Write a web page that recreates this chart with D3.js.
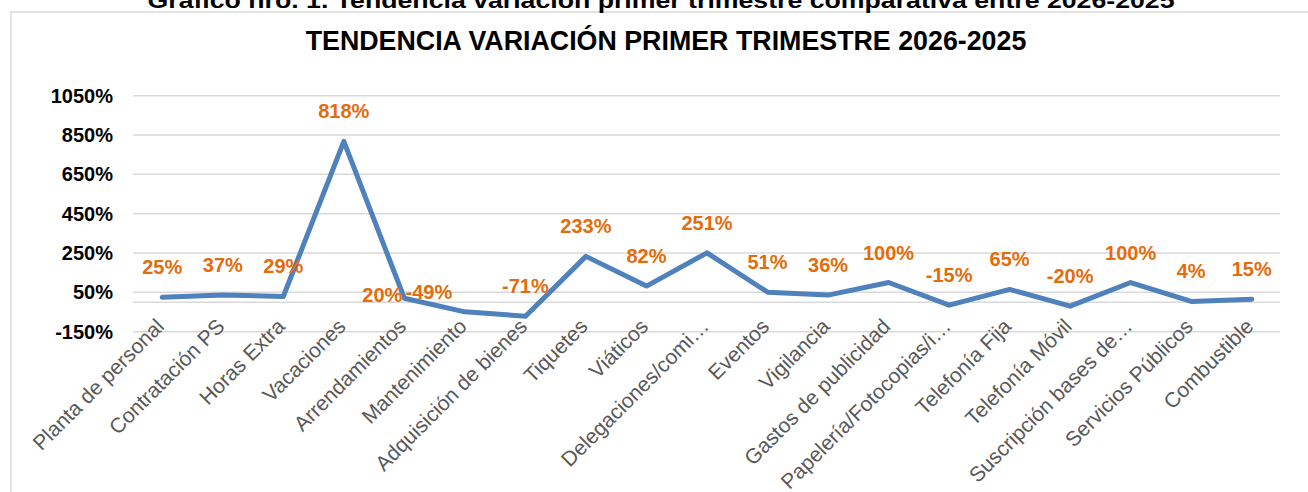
<!DOCTYPE html>
<html>
<head>
<meta charset="utf-8">
<script src="https://cdn.jsdelivr.net/npm/d3@7"></script>
<style>
  body { margin: 0; background: #fff; }
  svg { display: block; font-family: Arial, "Liberation Sans", sans-serif; }
  .grid line { stroke: #d9d9d9; stroke-width: 1.5; }
  .yLabel { font-size: 20px; font-weight: bold; fill: #000; }
  .xLabel { font-size: 21px; fill: #595959; }
  .valueLabel { font-size: 20px; font-weight: bold; fill: #e46c0a; }
</style>
</head>
<body>
<svg id="chart" width="1308" height="492"></svg>
<script>
const categories = [
  "Planta de personal", "Contratación PS", "Horas Extra", "Vacaciones",
  "Arrendamientos", "Mantenimiento", "Adquisición de bienes", "Tiquetes",
  "Viáticos", "Delegaciones/comi…", "Eventos", "Vigilancia",
  "Gastos de publicidad", "Papelería/Fotocopias/i…", "Telefonía Fija",
  "Telefonía Móvil", "Suscripción bases de…", "Servicios Públicos", "Combustible"
];
const variation = [25, 37, 29, 818, 20, -49, -71, 233, 82, 251, 51, 36, 100, -15, 65, -20, 100, 4, 15];
const yTicks = [-150, 50, 250, 450, 650, 850, 1050];

const chartTitle = "TENDENCIA VARIACIÓN PRIMER TRIMESTRE 2026-2025";
const captionTitle = "Gráfico nro. 1. Tendencia variación primer trimestre comparativa entre 2026-2025";

const width = 1308, height = 492;
const plot = {left: 132, right: 1282, top: 95.7, bottom: 331.7};

const svg = d3.select("#chart");

const x = d3.scalePoint()
    .domain(categories)
    .range([plot.left, plot.right])
    .padding(0.5);

const y = d3.scaleLinear()
    .domain([d3.min(yTicks), d3.max(yTicks)])
    .range([plot.bottom, plot.top]);

const data = categories.map((c, i) => ({cat: c, value: variation[i]}));

// Frame + titles ---------------------------------------------------
svg.append("path")
    .attr("d", `M11,${height + 2} V12 H${width + 2}`)
    .attr("fill", "none")
    .attr("stroke", "#d9d9d9")
    .attr("stroke-width", 1.5);

// caption sits above the frame and is clipped by the page top, as in the source
svg.append("text")
    .attr("x", 661)
    .attr("y", 8)
    .attr("text-anchor", "middle")
    .attr("textLength", 1027)
    .attr("lengthAdjust", "spacingAndGlyphs")
    .style("font-size", "22px")
    .style("font-weight", "bold")
    .text(captionTitle);

svg.append("text")
    .attr("x", 666)
    .attr("y", 50)
    .attr("text-anchor", "middle")
    .style("font-size", "26.8px")
    .style("font-weight", "bold")
    .text(chartTitle);

// Grid + y labels --------------------------------------------------
const grid = svg.append("g").classed("grid", true);

grid.selectAll("line.tick")
  .data(yTicks)
  .enter()
  .append("line")
    .attr("x1", plot.left + 1)
    .attr("x2", plot.right - 2)
    .attr("y1", d => y(d))
    .attr("y2", d => y(d));

// horizontal axis crosses at 0
grid.append("line")
    .attr("x1", plot.left + 1)
    .attr("x2", plot.right - 2)
    .attr("y1", y(0))
    .attr("y2", y(0));

svg.append("g")
  .selectAll("text")
  .data(yTicks)
  .enter()
  .append("text")
    .classed("yLabel", true)
    .attr("x", 113)
    .attr("y", d => y(d))
    .attr("dy", "0.35em")
    .attr("text-anchor", "end")
    .text(d => d + "%");

// Category labels --------------------------------------------------
svg.append("g")
  .selectAll("text")
  .data(categories)
  .enter()
  .append("text")
    .classed("xLabel", true)
    .attr("text-anchor", "end")
    .attr("transform", d => `translate(${x(d) + 3}, ${plot.bottom - 4}) rotate(-45)`)
    .text(d => d);

// Line -------------------------------------------------------------
const line = d3.line()
    .x(d => x(d.cat))
    .y(d => y(d.value));

svg.append("path")
    .datum(data)
    .attr("d", line)
    .attr("fill", "none")
    .attr("stroke", "#4f81bd")
    .attr("stroke-width", 5)
    .attr("stroke-linejoin", "round")
    .attr("stroke-linecap", "round");

// Value labels -----------------------------------------------------
// a couple of labels were dragged by hand in the original
function labelPos(d, i) {
  const px = x(d.cat), py = y(d.value);
  if (i === 4) return {x: px - 2, y: py - 3, anchor: "end"};
  if (i === 5) return {x: px - 36, y: py - 20, anchor: "middle"};
  return {x: px, y: py - 30, anchor: "middle"};
}

svg.append("g")
  .selectAll("text")
  .data(data)
  .enter()
  .append("text")
    .classed("valueLabel", true)
    .each(function(d, i) {
      const p = labelPos(d, i);
      d3.select(this)
          .attr("x", p.x)
          .attr("y", p.y)
          .attr("dy", "0.35em")
          .attr("text-anchor", p.anchor);
    })
    .text(d => d.value + "%");
</script>
</body>
</html>
